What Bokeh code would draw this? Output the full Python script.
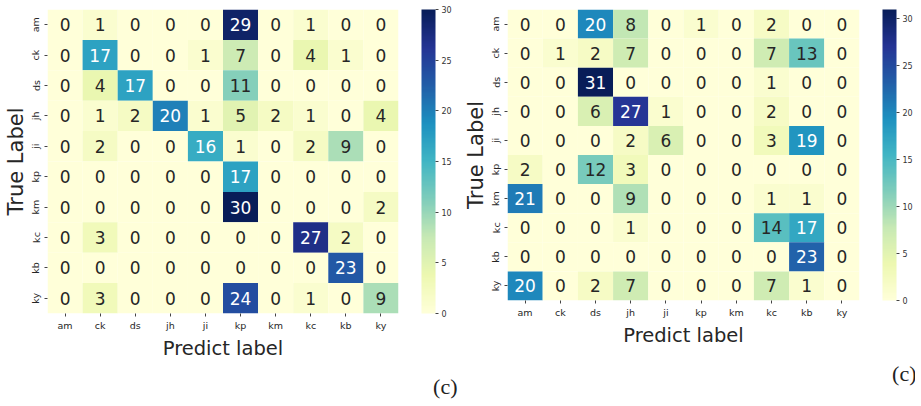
import numpy as np
from bokeh.plotting import figure
from bokeh.models import (ColumnDataSource, LinearColorMapper, ColorBar, FactorRange,
                          Title, SingleIntervalTicker)
from bokeh.core.properties import value
from bokeh.layouts import row
from bokeh.embed import file_html
from bokeh.resources import INLINE

labels = ["am", "ck", "ds", "jh", "ji", "kp", "km", "kc", "kb", "ky"]

left_matrix = [
    [0, 1, 0, 0, 0, 29, 0, 1, 0, 0],
    [0, 17, 0, 0, 1, 7, 0, 4, 1, 0],
    [0, 4, 17, 0, 0, 11, 0, 0, 0, 0],
    [0, 1, 2, 20, 1, 5, 2, 1, 0, 4],
    [0, 2, 0, 0, 16, 1, 0, 2, 9, 0],
    [0, 0, 0, 0, 0, 17, 0, 0, 0, 0],
    [0, 0, 0, 0, 0, 30, 0, 0, 0, 2],
    [0, 3, 0, 0, 0, 0, 0, 27, 2, 0],
    [0, 0, 0, 0, 0, 0, 0, 0, 23, 0],
    [0, 3, 0, 0, 0, 24, 0, 1, 0, 9],
]

right_matrix = [
    [0, 0, 20, 8, 0, 1, 0, 2, 0, 0],
    [0, 1, 2, 7, 0, 0, 0, 7, 13, 0],
    [0, 0, 31, 0, 0, 0, 0, 1, 0, 0],
    [0, 0, 6, 27, 1, 0, 0, 2, 0, 0],
    [0, 0, 0, 2, 6, 0, 0, 3, 19, 0],
    [2, 0, 12, 3, 0, 0, 0, 0, 0, 0],
    [21, 0, 0, 9, 0, 0, 0, 1, 1, 0],
    [0, 0, 0, 1, 0, 0, 0, 14, 17, 0],
    [0, 0, 0, 0, 0, 0, 0, 0, 23, 0],
    [20, 0, 2, 7, 0, 0, 0, 7, 1, 0],
]

left_vmax = 30
right_vmax = 31
colorbar_step = 5
panel_tag = "(c)"
x_title = "Predict label"
y_title = "True Label"

# YlGnBu base colours (light -> dark), interpolated to a smooth palette
ylgnbu = ["#ffffd9", "#edf8b1", "#c7e9b4", "#7fcdbb", "#41b6c4",
          "#1d91c0", "#225ea8", "#253494", "#081d58"]


def smooth_palette(stops, n=256):
    rgb = np.array([[int(c[i:i + 2], 16) for i in (1, 3, 5)] for c in stops], float)
    pos = np.linspace(0, 1, len(stops))
    t = np.linspace(0, 1, n)
    out = []
    for v in t:
        r, g, b = (np.interp(v, pos, rgb[:, k]) for k in range(3))
        out.append("#%02x%02x%02x" % (int(round(r)), int(round(g)), int(round(b))))
    return out


palette = smooth_palette(ylgnbu)
FONT = "DejaVu Sans"
DARK = "#262626"


def make_panel(matrix, vmax, fw, fh, bl, bt, br, bb, cb_gap, tag_offset):
    xs, ys, vals, txt, tcol = [], [], [], [], []
    for i, rlab in enumerate(labels):
        for j, clab in enumerate(labels):
            v = matrix[i][j]
            xs.append(clab)
            ys.append(rlab)
            vals.append(v)
            txt.append(str(v))
            tcol.append("white" if v / vmax > 0.5 else DARK)
    src = ColumnDataSource(dict(x=xs, y=ys, v=vals, t=txt, c=tcol))
    mapper = LinearColorMapper(palette=palette, low=0, high=vmax)

    p = figure(x_range=FactorRange(*labels), y_range=FactorRange(*labels[::-1]),
               frame_width=fw, frame_height=fh, min_border_left=bl, min_border_top=bt,
               min_border_right=br, min_border_bottom=bb,
               output_backend="svg", toolbar_location=None, tools="")
    p.rect("x", "y", width=1, height=1, source=src,
           fill_color={"field": "v", "transform": mapper}, line_color=None)
    p.text("x", "y", text="t", source=src, text_color="c", text_align="center",
           text_baseline="middle", text_font_size="17px", text_font=value(FONT))

    p.grid.grid_line_color = None
    p.outline_line_color = None
    for ax in (p.xaxis[0], p.yaxis[0]):
        ax.axis_line_color = None
        ax.major_tick_line_color = "#444444"
        ax.major_tick_in = 0
        ax.major_tick_out = 3
        ax.minor_tick_line_color = None
        ax.major_label_text_font = FONT
        ax.major_label_text_font_size = "9.5px"
        ax.major_label_text_color = DARK
        ax.major_label_standoff = 3
        ax.axis_label_text_font = FONT
        ax.axis_label_text_font_style = "normal"
        ax.axis_label_text_color = DARK
    p.xaxis.axis_label = x_title
    p.xaxis.axis_label_text_font_size = "19.5px"
    p.xaxis.axis_label_standoff = 3
    p.yaxis.axis_label = y_title
    p.yaxis.axis_label_text_font_size = "21px"
    p.yaxis.axis_label_standoff = 0
    p.yaxis.major_label_orientation = "vertical"

    cb = ColorBar(color_mapper=mapper, ticker=SingleIntervalTicker(interval=colorbar_step),
                  width=14, height=fh, padding=0, margin=0, location=(cb_gap, 0),
                  major_tick_in=0, major_tick_out=3, major_tick_line_color="#444444",
                  major_label_text_font=FONT, major_label_text_font_size="8px",
                  major_label_text_color="#333333", label_standoff=3,
                  border_line_color=None, bar_line_color=None)
    p.add_layout(cb, "right")

    p.add_layout(Title(text=panel_tag, align="right", offset=tag_offset,
                       text_font="Liberation Serif", text_font_size="22px",
                       text_font_style="normal", text_color="#222222", standoff=18),
                 "below")
    return p


left = make_panel(left_matrix, left_vmax, 351, 304, 44, 4, 60, 84, 23, -59)
right = make_panel(right_matrix, right_vmax, 352, 291, 49, 9, 49, 92, 23, -57)

layout = row(left, right)
open("out.html", "w").write(file_html(layout, INLINE))
